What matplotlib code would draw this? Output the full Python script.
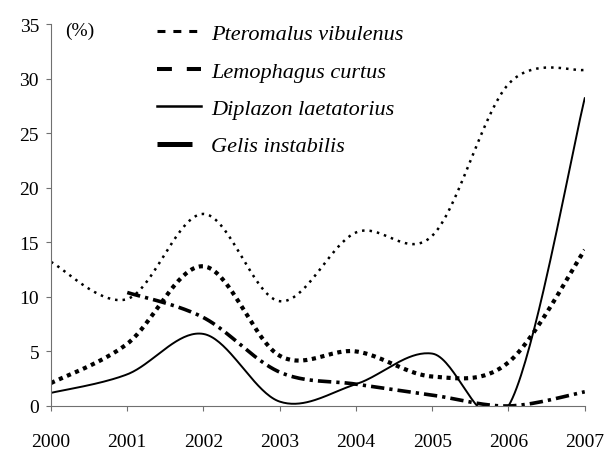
import numpy as np
import matplotlib.pyplot as plt
from matplotlib.lines import Line2D

years = [2000, 2001, 2002, 2003, 2004, 2005, 2006, 2007]
pteromalus = [13.2, 9.8, 17.6, 9.6, 15.9, 15.6, 29.5, 30.8]
lemophagus = [2.1, 5.7, 12.8, 4.6, 5.0, 2.7, 4.0, 14.3]
diplazon = [1.2, 2.9, 6.6, 0.4, 2.0, 4.8, 0.0, 28.2]
gelis_years = [2001, 2002, 2003, 2004, 2005, 2006, 2007]
gelis = [10.4, 8.1, 3.1, 2.0, 1.0, 0.0, 1.3]

names = ["Pteromalus vibulenus", "Lemophagus curtus",
         "Diplazon laetatorius", "Gelis instabilis"]

plt.rcParams['font.family'] = ['Liberation Serif', 'DejaVu Serif']


def smooth(xs, ys, n=40):
    # catmull-rom like excel "smoothed line"
    xs = np.asarray(xs, float)
    ys = np.asarray(ys, float)
    px = np.concatenate([[xs[0]], xs, [xs[-1]]])
    py = np.concatenate([[ys[0]], ys, [ys[-1]]])
    ox, oy = [], []
    for i in range(1, len(px) - 2):
        t = np.linspace(0, 1, n)
        h00 = 2 * t**3 - 3 * t**2 + 1
        h10 = t**3 - 2 * t**2 + t
        h01 = -2 * t**3 + 3 * t**2
        h11 = t**3 - t**2
        mx0 = (px[i + 1] - px[i - 1]) / 2
        mx1 = (px[i + 2] - px[i]) / 2
        my0 = (py[i + 1] - py[i - 1]) / 2
        my1 = (py[i + 2] - py[i]) / 2
        ox += list(h00 * px[i] + h10 * mx0 + h01 * px[i + 1] + h11 * mx1)
        oy += list(h00 * py[i] + h10 * my0 + h01 * py[i + 1] + h11 * my1)
    return np.array(ox), np.array(oy)


fig = plt.figure(figsize=(6.1, 4.52), dpi=100)
ax = fig.add_axes([0.0836, 0.0996, 0.875, 0.845])

x, y = smooth(years, pteromalus)
ax.plot(x, y, color='black', lw=1.8, linestyle=(0, (1, 2.0)))
x, y = smooth(years, lemophagus)
ax.plot(x, y, color='black', lw=3.0, linestyle=(0, (1, 1.1)))
x, y = smooth(years, diplazon)
ax.plot(x, y, color='black', lw=1.4, linestyle='-')
x, y = smooth(gelis_years, gelis)
ax.plot(x, y, color='black', lw=2.6, linestyle=(0, (3.7, 1.4, 0.9, 1.4)))

ax.set_xlim(2000, 2007)
ax.set_ylim(0, 35)
ax.set_xticks(years)
ax.set_yticks(range(0, 36, 5))
ax.spines['top'].set_visible(False)
ax.spines['right'].set_visible(False)
ax.spines['left'].set_color('#707070')
ax.spines['bottom'].set_color('#707070')
ax.tick_params(axis='both', labelsize=14, direction='out', length=3.6, color='#707070')
ax.tick_params(axis='x', pad=16)
ax.tick_params(axis='y', pad=5)

ax.text(0.026, 1.005, "(%)", transform=ax.transAxes, fontsize=14, va='top')

handles = [
    Line2D([], [], color='black', lw=2.2, linestyle=(0, (2.6, 2.6))),
    Line2D([], [], color='black', lw=2.9, linestyle=(0, (3.7, 3.7))),
    Line2D([], [], color='black', lw=1.8),
    Line2D([], [], color='black', lw=3.6, linestyle=(0, (7, 10))),
]
leg = fig.legend(handles, names, loc='upper left', bbox_to_anchor=(0.224, 0.99),
                 frameon=False, handlelength=2.0, handletextpad=0.45,
                 labelspacing=0.76, prop={'size': 16, 'style': 'italic'})

fig.savefig("out.png", dpi=100)
